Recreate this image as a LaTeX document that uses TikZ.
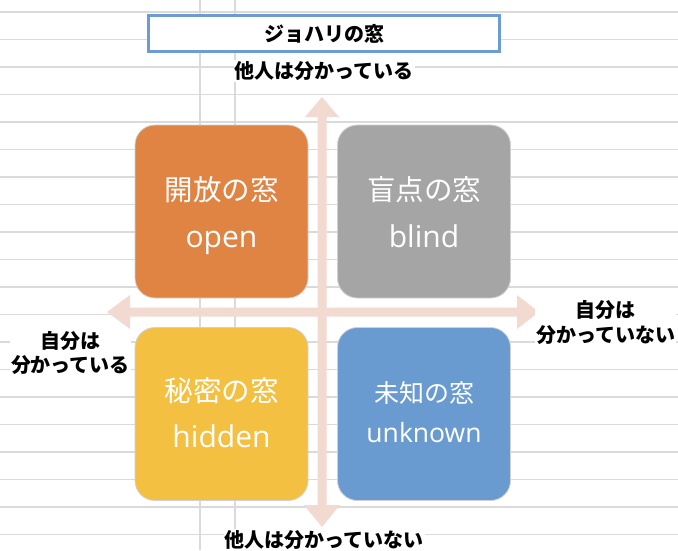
\documentclass[tikz,border=0pt]{standalone}
\usepackage{fontspec}
\newfontfamily\jp{Noto Sans CJK JP}
\newfontfamily\lat{Open Sans}
\definecolor{gridc}{HTML}{DADADA}
\definecolor{arrowc}{HTML}{F3DAD1}
\definecolor{openc}{HTML}{E08444}
\definecolor{blindc}{HTML}{A5A5A5}
\definecolor{hiddenc}{HTML}{F4C042}
\definecolor{unknownc}{HTML}{6A9BD0}
\definecolor{titlec}{HTML}{6D9CD5}
\tikzset{
  gridline/.style={draw=gridc, line width=1.2pt},
  quad/.style={draw=white!82!black, line width=0.8pt, rounded corners=20pt,
    minimum width=173pt, minimum height=173pt, inner sep=0pt},
  bigjp/.style={text=white, inner sep=0pt, anchor=base, font=\jp\fontsize{28.5}{30}\selectfont},
  biglat/.style={text=white, inner sep=0pt, anchor=base, font=\lat\fontsize{30}{32}\selectfont},
  axislabel/.style={fill=white, inner sep=1pt, align=center, text=black,
    font=\jp\bfseries\fontsize{20}{24.5}\selectfont},
}
\begin{document}
\begin{tikzpicture}[x=1pt,y=-1pt]
\useasboundingbox (0,0) rectangle (678,550);
\fill[white] (0,0) rectangle (678,550);
% spreadsheet grid
\foreach \k in {0,...,19} \draw[gridline] (0,12+27.5*\k) -- (678,12+27.5*\k);
\draw[gridline] (200,0) -- (200,550);
\draw[gridline] (235,0) -- (235,550);
% block arrows
\fill[arrowc] (322,97) -- (339,117) -- (326.5,117) -- (326.5,505) -- (340,505) -- (322,527)
  -- (304,505) -- (317.5,505) -- (317.5,117) -- (305,117) -- cycle;
\fill[arrowc] (107,312) -- (130,295) -- (130,307.5) -- (517,307.5) -- (517,295) -- (539,312)
  -- (517,329) -- (517,316.5) -- (130,316.5) -- (130,329) -- cycle;
% quadrants
\node[quad, fill=openc] (open) at (221.5,211.5) {};
\node[quad, fill=blindc] (blind) at (424,211.5) {};
\node[quad, fill=hiddenc] (hidden) at (221.5,414) {};
\node[quad, fill=unknownc] (unknown) at (424,414) {};
\node[bigjp] (openjp) at (221.5,200) {開放の窓};
\node[biglat] (openla) at (221.5,247) {open};
\node[bigjp] (blindjp) at (424,200) {盲点の窓};
\node[biglat] (blindla) at (424,247) {blind};
\node[bigjp] (hiddenjp) at (221.5,401) {秘密の窓};
\node[biglat] (hiddenla) at (221.5,447) {hidden};
\node[bigjp, font=\jp\fontsize{25}{27}\selectfont] (unknownjp) at (424,402) {未知の窓};
\node[biglat, font=\lat\fontsize{26.5}{28}\selectfont] (unknownla) at (424,442) {unknown};
% title
\node[draw=titlec, line width=2.8pt, fill=white, minimum width=351pt, minimum height=36pt,
  font=\jp\bfseries\fontsize{20}{22}\selectfont] (title) at (324,33.5) {ジョハリの窓};
% axis labels
\node[axislabel] (top) at (324,71) {他人は分かっている};
\node[axislabel] (bottom) at (324,540) {他人は分かっていない};
\node[axislabel] (left) at (70.5,353) {自分は\\分かっている};
\node[axislabel] (right) at (605.5,322.5) {自分は\\分かっていない};
\end{tikzpicture}
\end{document}
